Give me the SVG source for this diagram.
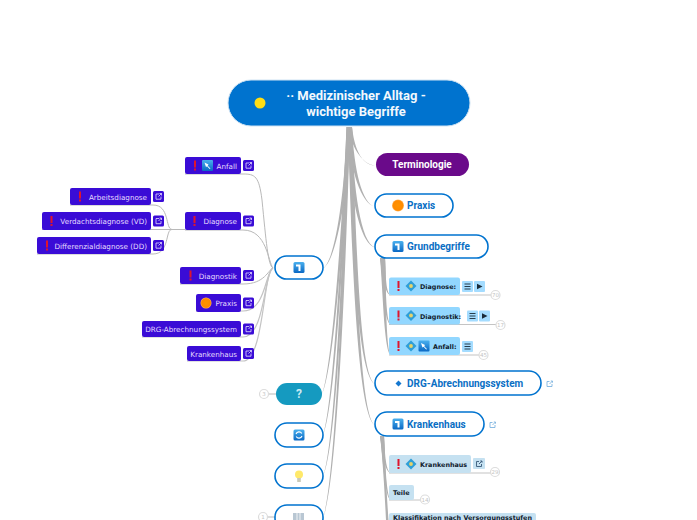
<svg xmlns="http://www.w3.org/2000/svg" width="697" height="520" viewBox="0 0 697 520">
<defs>
<linearGradient id="ig" x1="0" y1="0" x2="0" y2="1"><stop offset="0" stop-color="#4ab0ee"/><stop offset="1" stop-color="#0a68c4"/></linearGradient>
<radialGradient id="og" cx=".5" cy=".5" r=".5"><stop offset="0" stop-color="#ff9400"/><stop offset=".8" stop-color="#ff8a00"/><stop offset="1" stop-color="#ffb860"/></radialGradient>
<style>
.c{fill:#b0b0b0;stroke:none}
.t{fill:none;stroke:#b9b9b9;stroke-width:1}
.s{fill:none;stroke:#c4c4c4;stroke-width:1.200}
.out{fill:#fff;stroke:#0073cf;stroke-width:1.600}
.bl{font:700 10px Roboto,"Liberation Sans",sans-serif;fill:#0a6fc4}
.lt{font:7.200px "DejaVu Sans",sans-serif;fill:#e6dcff;text-anchor:end}
.st{font:700 6.400px "DejaVu Sans",sans-serif;fill:#10202c}
.left{fill:#3a0cd6}
.ext{fill:#3a0cd6}
.exl{fill:none;stroke:#e6e0ff;stroke-width:.8}
.sub{fill:#92d7ff}
.sub2{fill:#c5e1f1}
.btn{fill:#a4dcff}
.cir{fill:#fff;stroke:#dcdcdc;stroke-width:1.200}
.ct{font:5.500px "DejaVu Sans",sans-serif;fill:#c4c4c4;text-anchor:middle}
</style>
<g id="ext"><rect x="0" y="0" width="11" height="11" rx="1.500" class="ext"/><path class="exl" d="M6 3H3V8.200H8V5.500M5.500 5.500L8.500 2.500M6.500 2.500H8.500V4.500"/></g>
<g id="extb"><path fill="none" stroke="#7fb4e0" stroke-width=".9" d="M3.500 1.500H1V6.500H6V4M3.500 4L6.500 1M4.800 1H6.500V2.700"/></g>
<g id="extd"><path fill="none" stroke="#3a5a78" stroke-width=".9" d="M3.500 1.500H1V6.500H6V4M3.500 4L6.500 1M4.800 1H6.500V2.700"/></g>
<g id="excl"><rect x="-1" y="-5" width="2" height="7" fill="#e0142c"/><rect x="-1" y="3" width="2" height="2" fill="#e0142c"/></g>
<g id="book"><rect x="-5.500" y="-5.500" width="11" height="11" rx="1.500" fill="url(#ig)"/><path d="M-3-3H1.500V3.500H-.5V-1H-3Z" fill="#fff"/></g>
<g id="dia"><path d="M0-5.500L5.500 0L0 5.500L-5.500 0Z" fill="#2e9fd8"/><circle r="1.900" fill="#e6d36a"/></g>
<g id="arrow"><rect x="-5.500" y="-5.500" width="11" height="11" rx="1" fill="url(#ig)"/><path d="M-3-3L1 -1L.2 .2L3 3L2.200 3.500L-.4 .8L-1.500 1.500Z" fill="#fff"/></g>
<g id="menu"><rect width="11" height="11" rx="1" class="btn"/><path d="M2.500 3H8.500M2.500 5.500H8.500M2.500 8H8.500" stroke="#1a2a38" stroke-width=".9"/></g>
<g id="play"><rect width="11" height="11" rx="1" class="btn"/><path d="M3 2.800V8.200L8.500 5.500Z" fill="#1a2a38"/></g>
</defs>
<rect width="697" height="520" fill="#fff"/>
<g id="connectors">
<path class="c" d="M348 127C351 145 361 164 375 165.500C360 165 354 145 352 127Z"/>
<path class="c" d="M347.500 127C350 170 361 204 375 206.500C362 204 354 170 352 127Z"/>
<path class="c" d="M347.500 127C349 190 359 243 375 247.500C361 243 353 190 352 127Z"/>
<path class="c" d="M348 127C353 260 358 375 375 384.500C360 375 357 260 352 127Z"/>
<path class="c" d="M348 127C352 270 358 415 375 425.500C360 415 356 270 352 127Z"/>
<path class="c" d="M347 127C344 200 335 260 323 268.500C336 261 347 200 351 127Z"/>
<path class="c" d="M346.500 127C341 250 331 370 322 394.500C333 370 343 250 349.500 127Z"/>
<path class="c" d="M346.500 127C341 270 332 410 323 435.500C334 410 343 270 349.500 127Z"/>
<path class="c" d="M347 127C342 280 334 450 323 476.500C336 450 344 280 350 127Z"/>
<path class="c" d="M347 127C343 300 334 490 323 517.500C336 490 345 300 350 127Z"/>
<path class="c" d="M380 258C383 270 383 293 391 295.500C385 293 386 270 385 258Z"/>
<path class="c" d="M380 258C383 275 383 322 391 325C385 322 386 275 385 258Z"/>
<path class="c" d="M380 258C383 290 384 352 391 355.500C386 352 386 290 385 258Z"/>
<path class="c" d="M380 436C383 450 383 470 391 473.500C385 470 385 450 384 436Z"/>
<path class="c" d="M380 436C383 455 384 497 391 500.500C386 497 385 455 384 436Z"/>
<path class="c" d="M380 436C383 460 385 500 386 520H388.500C387 500 385 460 384 436Z"/>
<path class="t" d="M273 268C268 266 266 240 262 200C259 176 255 174 243 174H185"/>
<path class="t" d="M273 268C268 262 267 230 243 230H185"/>
<path class="t" d="M273 268C268 270 265 284 243 284H180"/>
<path class="s" d="M273 268C265 272 266 311 243 311H196"/>
<path class="s" d="M273 268C264 272 265 337 243 337H142"/>
<path class="s" d="M273 268C263 272 264 361 243 361H187"/>
<path class="t" d="M185 229.500H172C165 229 170 205 153 205H70M185 229.500H42M172 229.500C165 229 170 254 153 254H37"/>
<path class="t" d="M269 394H276M268 517H275"/>
<path class="s" d="M389 295H491M389 324.500H496M389 355H479M389 473H491M389 500H421"/>
</g>
<g id="root"><rect x="228" y="80" width="242" height="46" rx="23" fill="#0073cf" stroke="#cfe3f3"/><circle cx="260" cy="103" r="5.500" fill="#ffdd15"/><text x="356" y="100" font-family="Roboto,sans-serif" font-weight="700" font-size="13" fill="#f2f8fd" text-anchor="middle">·· Medizinischer Alltag -</text><text x="356" y="116" font-family="Roboto,sans-serif" font-weight="700" font-size="13" fill="#f2f8fd" text-anchor="middle">wichtige Begriffe</text></g>
<g id="terminologie"><rect x="376" y="153" width="93" height="23" rx="11.500" fill="#6a0a8a"/><text x="422" y="168" font-family="Roboto,sans-serif" font-weight="700" font-size="10" fill="#fff" text-anchor="middle">Terminologie</text></g>
<g id="praxis-r"><rect class="out" x="375" y="194" width="78" height="23" rx="11.500"/><circle cx="398" cy="205.500" r="6" fill="url(#og)"/><text class="bl" x="407" y="209">Praxis</text></g>
<g id="grundbegriffe"><rect class="out" x="375" y="235" width="113" height="23" rx="11.500"/><use href="#book" x="398" y="246.500"/><text class="bl" x="407" y="250">Grundbegriffe</text></g>
<g id="drg-r"><rect class="out" x="375" y="371" width="166" height="24" rx="12"/><path d="M398.500 380.500L401.500 383.500L398.500 386.500L395.500 383.500Z" fill="#1477cf"/><text class="bl" x="407" y="387">DRG-Abrechnungssystem</text><use href="#extb" x="546" y="380"/></g>
<g id="krankenhaus-r"><rect class="out" x="375" y="412" width="109" height="24" rx="12"/><use href="#book" x="398" y="424"/><text class="bl" x="407" y="428">Krankenhaus</text><use href="#extb" x="489" y="421"/></g>
<g id="center-left"><rect class="out" x="275" y="256" width="48" height="23" rx="11.500"/><use href="#book" x="299" y="267.500"/></g>
<g id="question"><rect x="276" y="383" width="46" height="22" rx="11" fill="#159ac0"/><text x="299" y="398" font-family="Roboto,sans-serif" font-weight="700" font-size="12" fill="#cdeaf3" text-anchor="middle">?</text><circle class="cir" cx="264" cy="394" r="4.500"/><text class="ct" x="264" y="396">3</text></g>
<g id="refresh"><rect class="out" x="275" y="423" width="48" height="24" rx="12"/><rect x="293.500" y="429.500" width="11" height="11" rx="1.500" fill="url(#ig)"/><path d="M296 434A3.200 3.200 0 0 1 301.800 433.500M302 436A3.200 3.200 0 0 1 296.200 436.500" fill="none" stroke="#fff" stroke-width="1.100"/></g>
<g id="bulb"><rect class="out" x="275" y="464" width="48" height="24" rx="12"/><circle cx="299" cy="474.500" r="4" fill="#ffe96a"/><rect x="297.200" y="478" width="3.600" height="4" fill="#c9c9b8"/></g>
<g id="grid"><rect class="out" x="275" y="505" width="48" height="25" rx="12"/><rect x="293" y="513" width="11" height="7" fill="#b9c7d3"/><path d="M297 513V520M300 513V520" stroke="#fff" stroke-width=".8"/><circle class="cir" cx="263" cy="517" r="4.500"/><text class="ct" x="263" y="519">1</text></g>
<g id="l-anfall"><rect class="left" x="185" y="157" width="56" height="17" rx="2"/><use href="#excl" x="195" y="165.500"/><use href="#arrow" x="207.500" y="165.500"/><text class="lt" x="237" y="169">Anfall</text><use href="#ext" x="243" y="160"/></g>
<g id="l-arbeits"><rect class="left" x="70" y="188" width="81" height="17" rx="2"/><use href="#excl" x="80" y="196.500"/><text class="lt" x="147" y="199.500">Arbeitsdiagnose</text><use href="#ext" x="153" y="191"/></g>
<g id="l-verdacht"><rect class="left" x="42" y="212" width="109" height="18" rx="2"/><use href="#excl" x="51.500" y="221"/><text class="lt" x="147" y="224">Verdachtsdiagnose (VD)</text><use href="#ext" x="153" y="215.500"/></g>
<g id="l-diff"><rect class="left" x="37" y="237" width="114" height="17" rx="2"/><use href="#excl" x="47" y="245.500"/><text class="lt" x="147" y="248.500">Differenzialdiagnose (DD)</text><use href="#ext" x="153" y="240"/></g>
<g id="l-diagnose"><rect class="left" x="185" y="212" width="56" height="18" rx="2"/><use href="#excl" x="194.500" y="221"/><text class="lt" x="237" y="224">Diagnose</text><use href="#ext" x="243" y="215.500"/></g>
<g id="l-diagnostik"><rect class="left" x="180" y="267" width="61" height="17" rx="2"/><use href="#excl" x="190.500" y="275.500"/><text class="lt" x="237" y="279">Diagnostik</text><use href="#ext" x="243" y="270"/></g>
<g id="l-praxis"><rect class="left" x="196" y="294" width="45" height="18" rx="2"/><circle cx="206" cy="303" r="5.500" fill="url(#og)"/><text class="lt" x="237" y="306">Praxis</text><use href="#ext" x="243" y="297.500"/></g>
<g id="l-drg"><rect class="left" x="142" y="321" width="99" height="16" rx="2"/><text class="lt" x="237" y="331.500">DRG-Abrechnungssystem</text><use href="#ext" x="243" y="323.500"/></g>
<g id="l-kh"><rect class="left" x="187" y="346" width="54" height="15" rx="2"/><text class="lt" x="237" y="356.500">Krankenhaus</text><use href="#ext" x="243" y="348"/></g>
<g id="s-diagnose"><rect class="sub" x="389" y="277.500" width="71" height="17.500" rx="2"/><use href="#excl" x="398.500" y="286"/><use href="#dia" x="411" y="286"/><text class="st" x="420" y="289">Diagnose:</text><use href="#menu" x="462" y="281"/><use href="#play" x="474" y="281"/><circle class="cir" cx="495.500" cy="295" r="4.500"/><text class="ct" x="495.500" y="297">70</text></g>
<g id="s-diagnostik"><rect class="sub" x="389" y="307" width="71" height="17.500" rx="2"/><use href="#excl" x="398.500" y="315.500"/><use href="#dia" x="411" y="315.500"/><text class="st" x="420" y="318.500">Diagnostik:</text><use href="#menu" x="467" y="310.500"/><use href="#play" x="479" y="310.500"/><circle class="cir" cx="500.500" cy="325" r="4.500"/><text class="ct" x="500.500" y="327">17</text></g>
<g id="s-anfall"><rect class="sub" x="389" y="337" width="71" height="18" rx="2"/><use href="#excl" x="398.500" y="346"/><use href="#dia" x="411" y="346"/><use href="#arrow" x="424" y="346"/><text class="st" x="433" y="349">Anfall:</text><use href="#menu" x="462" y="341"/><circle class="cir" cx="483.500" cy="355" r="4.500"/><text class="ct" x="483.500" y="357">45</text></g>
<g id="s-kh"><rect class="sub2" x="389" y="455" width="82" height="18" rx="2"/><use href="#excl" x="398.500" y="464"/><use href="#dia" x="411" y="464"/><text class="st" x="420" y="466.500">Krankenhaus</text><rect class="sub2" x="473" y="458" width="12" height="11" rx="1"/><use href="#extd" x="475.500" y="460"/><circle class="cir" cx="495" cy="472" r="4.500"/><text class="ct" x="495" y="474">29</text></g>
<g id="s-teile"><rect class="sub2" x="389" y="485" width="25" height="15" rx="2"/><text class="st" x="393" y="495">Teile</text><circle class="cir" cx="425" cy="499.500" r="4.500"/><text class="ct" x="425" y="501.500">14</text></g>
<g id="s-klass"><rect class="sub2" x="389" y="513" width="147" height="12" rx="2"/><text class="st" x="393" y="520">Klassifikation nach Versorgungsstufen</text></g>
</svg>
